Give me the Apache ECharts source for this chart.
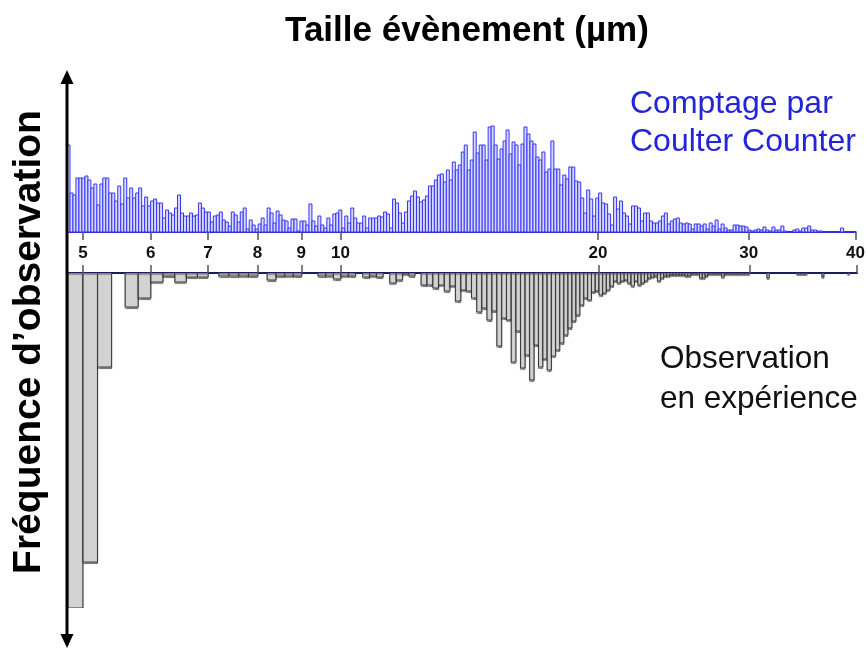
<!DOCTYPE html>
<html><head><meta charset="utf-8">
<script src="https://cdn.jsdelivr.net/npm/echarts@6/dist/echarts.min.js"></script>
<style>html,body{margin:0;padding:0;background:#fff}#c{width:868px;height:648px}</style>
</head><body><div id="c"></div>
<script>
// ---- data ----
const tickValues = [5, 6, 7, 8, 9, 10, 20, 30, 40];
const sizeMin = 4.79, sizeMax = 40;

// Coulter Counter histogram (log-spaced channels from sizeMin to sizeMax)
const coulterCounts = [
  87,39,37,54,54,54,56,52,44,48,27,48,54,54,39,39,31,46,28,54,34,44,34,39,44,26,35,26,31,33,29,29,14,22,19,17,24,37,19,16,16,19,16,17,29,24,20,20,10,16,17,20,12,10,6,20,17,10,20,24,3,12,
  7,3,8,14,7,24,19,9,21,17,12,11,4,13,13,1,11,11,7,28,11,6,16,7,4,14,7,18,19,22,4,16,9,24,14,9,9,16,4,14,14,14,16,15,20,18,4,33,29,19,9,20,31,36,41,35,30,32,36,46,46,
  52,57,58,50,62,52,70,62,67,80,87,62,72,100,79,87,87,72,105,106,87,73,83,91,102,78,90,87,67,88,105,98,91,88,75,72,80,60,63,91,63,63,47,57,53,65,65,51,50,34,19,42,33,
  16,34,39,29,28,18,7,35,23,31,19,16,8,26,26,24,11,19,19,11,9,9,11,16,19,8,11,13,14,9,8,9,8,3,8,8,6,8,3,9,6,12,3,8,4,2,2,7,7,6,6,5,2,1,2,3,2,5,2,1,5,2,2,6,1,0,0,2,3,1,4,4,6,2,2,1,1,0,0,0,0,0,0,4,0,0,0,0
];

// Experimental observation histogram (0.2 µm bins starting at 4.8 µm)
const expStart = 4.8, expBinWidth = 0.2;
const expCounts = [
  335,289,94,0,34,25,9,3,9,4, 4,0,3,3,3,3,0,7,3,3, 3,0,0,3,3,6,3,3,0,4, 3,4,0,10,
  7,1,3,0,12,12,15,12,18,13, 28,17,18,25,39,35,47,38,73,45, 47,89,58,95,82,107,72,94,86,97, 83,77,70,62,55,48,42,32,25,27, 19,18,
  22,20,17,13,8,10,8,7,10,13,8,12,10,8,5,4,3,8,5,3,
  3,2,2,2,2,2,3,3,1,1,1,5,5,3,1,1,1,1,1,4,1,
  1,1,1,1,1,1,1,1,1,
  0,0,0,0,0,0,0, 5, 0,0,0,0,0,0,0,0,0,0,0,0, 1,1,1,1,1, 0,0,0,0,0,0,0, 4, 0,0,0,0,0,0,0,0,0,0,0,0, 1, 0,0,0,0
];

const titleText = 'Taille évènement (µm)';
const yLabelText = 'Fréquence d’observation';
const coulterLabel = 'Comptage par\nCoulter Counter';
const expLabel = 'Observation\nen expérience';

// ---- build ----
const ratio = Math.pow(sizeMax / sizeMin, 1 / coulterCounts.length);
const upperData = coulterCounts.map((v, i) => [sizeMin * Math.pow(ratio, i), sizeMin * Math.pow(ratio, i + 1), v]);
const lowerData = expCounts.map((v, i) => [expStart + expBinWidth * i, expStart + expBinWidth * (i + 1), v]);

function histItem(style) {
  return function (params, api) {
    const p0 = api.coord([api.value(0), 0]);
    const p1 = api.coord([api.value(1), api.value(2)]);
    const x = Math.min(p0[0], p1[0]);
    const y = Math.min(p0[1], p1[1]);
    const w = Math.abs(p1[0] - p0[0]);
    const h = Math.abs(p1[1] - p0[1]);
    if (h < 0.01) return null;
    return { type: 'rect', shape: { x: x, y: y, width: w, height: h }, style: style };
  };
}

const FONT = '"Liberation Sans", Arial, sans-serif';
const xCommon = {
  type: 'log', min: sizeMin, max: sizeMax, logBase: 10,
  splitLine: { show: false }, minorTick: { show: false }
};

const chart = echarts.init(document.getElementById('c'));
chart.setOption({
  animation: false,
  backgroundColor: '#fff',
  grid: [
    { left: 67, right: 11, top: 122, height: 110 },
    { left: 67, right: 11, top: 273, height: 335 }
  ],
  xAxis: [
    Object.assign({}, xCommon, {
      gridIndex: 0, position: 'bottom',
      axisLine: { show: true, lineStyle: { color: '#2f2fd8', width: 2 } },
      axisTick: { show: true, customValues: tickValues, length: 8, inside: false, lineStyle: { color: '#555', width: 1.5 } },
      axisLabel: { show: true, customValues: tickValues, margin: 13, color: '#111', fontFamily: FONT, fontWeight: 'bold', fontSize: 17,
        formatter: v => String(Math.round(v)) }
    }),
    Object.assign({}, xCommon, {
      gridIndex: 1, position: 'top',
      axisLine: { show: true, lineStyle: { color: '#1c1c60', width: 2 } },
      axisTick: { show: true, customValues: tickValues, length: 8, inside: false, lineStyle: { color: '#555', width: 1.5 } },
      axisLabel: { show: false }
    })
  ],
  yAxis: [
    { type: 'value', gridIndex: 0, min: 0, max: 110, show: false },
    { type: 'value', gridIndex: 1, min: 0, max: 335, inverse: true, show: false }
  ],
  series: [
    { type: 'custom', xAxisIndex: 0, yAxisIndex: 0, data: upperData, clip: true,
      encode: { x: [0, 1], y: 2 },
      renderItem: histItem({ fill: '#d8d8ff', stroke: '#3434ff', lineWidth: 1 }), z: 2 },
    { type: 'custom', xAxisIndex: 1, yAxisIndex: 1, data: lowerData, clip: true,
      encode: { x: [0, 1], y: 2 },
      renderItem: histItem({ fill: '#d3d3d3', stroke: '#3a3a3a', lineWidth: 1,
        shadowColor: 'rgba(0,0,0,0.35)', shadowBlur: 1, shadowOffsetY: 1.5 }), z: 2 }
  ],
  graphic: [
    { type: 'text', x: 467, y: 31, style: { text: titleText, fill: '#000', font: 'bold 35px ' + FONT, textAlign: 'center', textVerticalAlign: 'middle' } },
    { type: 'text', x: 29, y: 342, rotation: Math.PI / 2, style: { text: yLabelText, fill: '#000', font: 'bold 39px ' + FONT, textAlign: 'center', textVerticalAlign: 'middle' } },
    { type: 'text', x: 630, y: 123, style: { text: coulterLabel, fill: '#2424d8', font: '32px ' + FONT, lineHeight: 38, textAlign: 'left', textVerticalAlign: 'middle' } },
    { type: 'text', x: 660, y: 379, style: { text: expLabel, fill: '#111', font: '31.5px ' + FONT, lineHeight: 40, textAlign: 'left', textVerticalAlign: 'middle' } },
    { type: 'line', shape: { x1: 67, y1: 80, x2: 67, y2: 638 }, style: { stroke: '#000', lineWidth: 3 }, z: 10 },
    { type: 'polygon', shape: { points: [[67, 70], [60.5, 84], [73.5, 84]] }, style: { fill: '#000' }, z: 10 },
    { type: 'polygon', shape: { points: [[67, 648], [60.5, 634], [73.5, 634]] }, style: { fill: '#000' }, z: 10 }
  ]
});
</script></body></html>
